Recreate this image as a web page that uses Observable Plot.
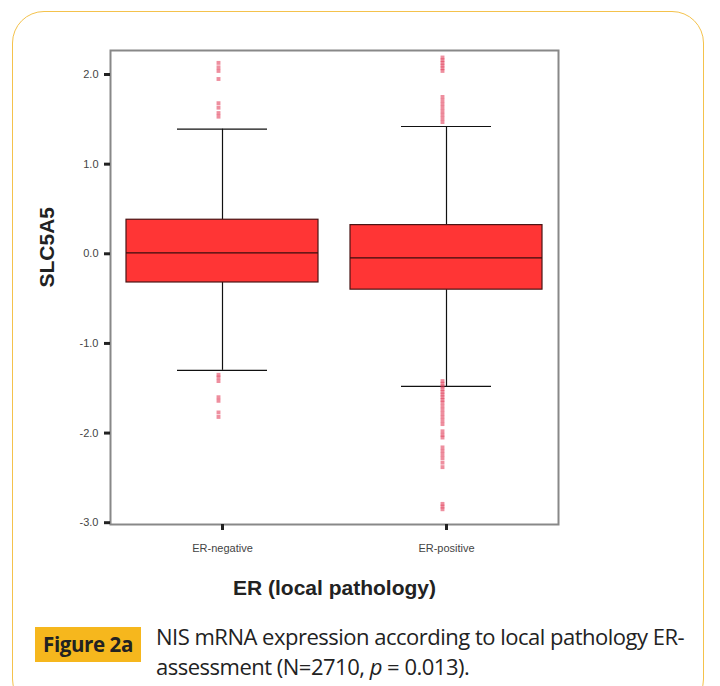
<!DOCTYPE html>
<html>
<head>
<meta charset="utf-8">
<script src="https://cdn.jsdelivr.net/npm/d3@7"></script>
<script src="https://cdn.jsdelivr.net/npm/@observablehq/plot@0.6"></script>
<style>
  html, body { margin: 0; padding: 0; background: #fff; }
  #wrap { position: relative; width: 720px; height: 686px; overflow: hidden; background: #fff; }
  #card { position: absolute; left: 12px; top: 11px; width: 692px; height: 700px; border: 1.5px solid #f4c24c; border-radius: 32px; box-sizing: border-box; }
  #chart { position: absolute; left: 0; top: 0; }
  #figtag { position: absolute; left: 35px; top: 627px; width: 106px; height: 35px; background: #f6b71d; font-family: "Open Sans", sans-serif; font-weight: 700; font-size: 20.5px; color: #222; line-height: 35px; text-align: center; letter-spacing: -0.4px; }
  #captext { position: absolute; left: 156px; top: 621px; font-family: "Open Sans", sans-serif; font-size: 22px; line-height: 30px; color: #222; letter-spacing: -0.5px; }
</style>
</head>
<body>
<div id="wrap">
  <div id="card"></div>
  <div id="chart"></div>
  <div id="figtag">Figure 2a</div>
  <div id="captext">NIS mRNA expression according to local pathology ER-<br>assessment (N=2710, <i>p</i> = 0.013).</div>
</div>
<script>
const categories = ["ER-negative", "ER-positive"];
const q1 = [-0.32, -0.40];
const median = [0.01, -0.045];
const q3 = [0.38, 0.32];
const whiskerLow = [-1.30, -1.48];
const whiskerHigh = [1.39, 1.42];
const yTicks = [-3, -2, -1, 0, 1, 2];

const negOutliers = [2.13, 2.08, 2.04, 1.95, 1.68, 1.63, 1.57, 1.53,
  -1.35, -1.38, -1.42, -1.60, -1.64, -1.77, -1.82];
const posOutliers = [2.19, 2.16, 2.13, 2.10, 2.07, 2.04, 1.75, 1.71, 1.67, 1.63, 1.59, 1.55, 1.51, 1.47,
  -1.42, -1.45, -1.48, -1.51, -1.54, -1.57, -1.60, -1.63, -1.66, -1.70, -1.74, -1.78, -1.82, -1.86, -1.90,
  -1.98, -2.02, -2.05, -2.16, -2.20, -2.24, -2.28, -2.33, -2.38, -2.79, -2.82, -2.85];

const boxes = categories.map((c, i) => ({
  cat: c, q1: q1[i], med: median[i], q3: q3[i], lo: whiskerLow[i], hi: whiskerHigh[i]
}));
const outliers = [
  ...negOutliers.map(v => ({cat: categories[0], v})),
  ...posOutliers.map(v => ({cat: categories[1], v}))
];

const chart = Plot.plot({
  width: 720,
  height: 610,
  marginLeft: 110,
  marginRight: 162,
  marginTop: 50,
  marginBottom: 86,
  style: {fontFamily: "Arial, 'Liberation Sans', sans-serif", background: "transparent"},
  x: {type: "band", domain: categories, padding: 0, label: null},
  y: {domain: [-3.02, 2.268], label: null},
  marks: [
    Plot.ruleX(boxes, {x: "cat", y1: "q3", y2: "hi", stroke: "#111", strokeWidth: 1.2}),
    Plot.ruleX(boxes, {x: "cat", y1: "lo", y2: "q1", stroke: "#111", strokeWidth: 1.2}),
    Plot.tickY(boxes, {x: "cat", y: "hi", inset: 67, stroke: "#111", strokeWidth: 1.2}),
    Plot.tickY(boxes, {x: "cat", y: "lo", inset: 67, stroke: "#111", strokeWidth: 1.2}),
    Plot.barY(boxes, {x: "cat", y1: "q1", y2: "q3", insetLeft: 16, insetRight: 16, fill: "#ff3535", stroke: "#4a1414", strokeWidth: 1.2}),
    Plot.tickY(boxes, {x: "cat", y: "med", inset: 16, stroke: "#3a0e0e", strokeWidth: 1.3}),
    Plot.dot(outliers, {x: "cat", y: "v", dx: -4, symbol: "square", r: 2.2, fill: "#e2445f", fillOpacity: 0.6, stroke: "none"}),
    Plot.frame({stroke: "#888", strokeWidth: 2}),
    Plot.axisY({ticks: yTicks, tickFormat: d => d.toFixed(1), tickSize: 6, tickPadding: 6, stroke: "#222", strokeWidth: 3, fill: "#444", fontSize: 11, label: null}),
    Plot.axisX({tickSize: 6, tickPadding: 14, stroke: "#222", strokeWidth: 3, fill: "#444", fontSize: 11, label: null}),
    Plot.text(["SLC5A5"], {frameAnchor: "left", dx: -63, rotate: -90, fontSize: 21, fontWeight: "bold", fill: "#222"}),
    Plot.text(["ER (local pathology)"], {frameAnchor: "bottom", dy: 70, fontSize: 21, fontWeight: "bold", fill: "#222"})
  ]
});
document.getElementById("chart").appendChild(chart);
</script>
</body>
</html>
